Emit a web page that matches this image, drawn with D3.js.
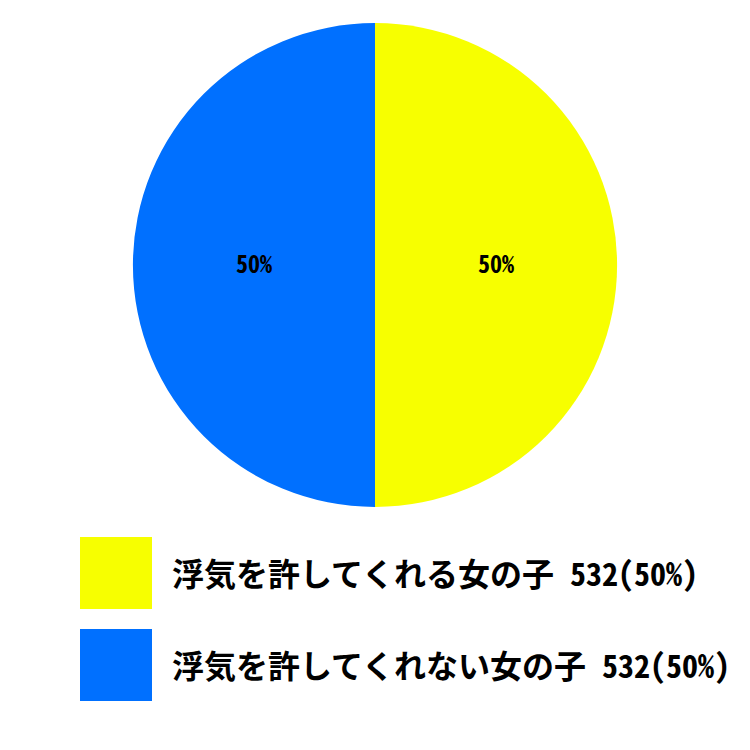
<!DOCTYPE html>
<html>
<head>
<meta charset="utf-8">
<script src="https://cdn.jsdelivr.net/npm/d3@7"></script>
<style>
  body { margin: 0; background: #fff; }
  text { font-family: "Noto Sans CJK JP", sans-serif; font-weight: bold; }
  .hw { font-feature-settings: "hwid" 1; }
</style>
</head>
<body>
<script>
var labels = ["浮気を許してくれる女の子", "浮気を許してくれない女の子"];
var counts = [532, 532];
var colors = ["#f7ff00", "#0070ff"];

var w = 750, h = 750;
var cx = 375, cy = 265, r = 242;

var svg = d3.select("body")
      .append("svg")
      .attr("width", w)
      .attr("height", h);

var total = d3.sum(counts);
var items = counts.map(function(d, i) {
  return { label: labels[i], value: d, color: colors[i] };
});

var pie = d3.pie().value(d => d.value).sort(null);
var arc = d3.arc().innerRadius(0).outerRadius(r);
var labelArc = d3.arc().innerRadius(r / 2).outerRadius(r / 2);

var g = svg.append("g").attr("transform", "translate(" + cx + "," + cy + ")");

var slices = pie(items);

g.selectAll("path")
  .data(slices)
  .enter()
  .append("path")
  .attr("d", arc)
  .attr("fill", d => d.data.color);

g.selectAll("text.pct")
  .data(slices)
  .enter()
  .append("text")
  .attr("class", "pct hw")
  .attr("x", d => labelArc.centroid(d)[0])
  .attr("y", d => labelArc.centroid(d)[1])
  .attr("text-anchor", "middle")
  .attr("dy", "0.35em")
  .style("font-size", "24px")
  .text(d => Math.round(d.data.value / total * 100) + "%");

var legend = svg.selectAll("g.leg")
  .data(items)
  .enter()
  .append("g")
  .attr("class", "leg")
  .attr("transform", (d, i) => "translate(80," + (537 + i * 92) + ")");

legend.append("rect")
  .attr("width", 72)
  .attr("height", 72)
  .attr("fill", d => d.color);

var lt = legend.append("text")
  .attr("x", 92)
  .attr("y", 38)
  .attr("dy", "0.35em")
  .style("font-size", "32px");

lt.append("tspan").text(d => d.label);
lt.append("tspan")
  .attr("class", "hw")
  .text(d => " " + d.value + "(" + Math.round(d.value / total * 100) + "%)");
</script>
</body>
</html>
